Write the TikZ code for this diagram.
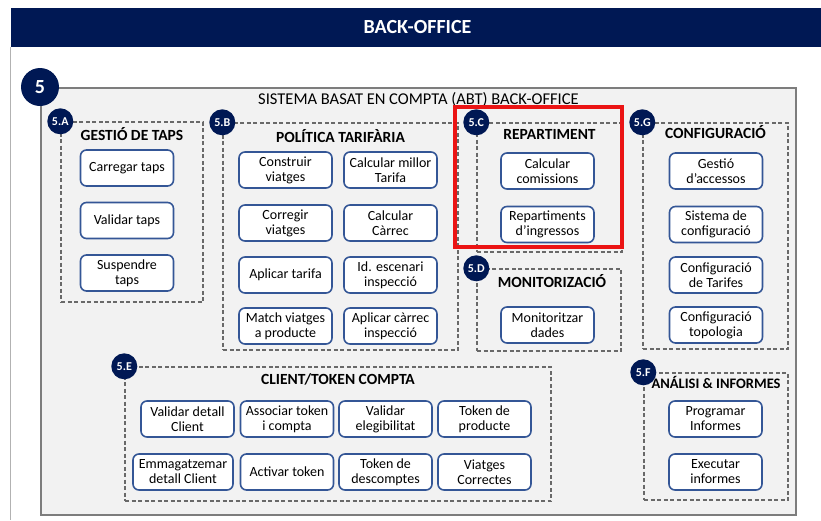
\documentclass[tikz,border=0pt]{standalone}
\usepackage{fontspec}
\setmainfont{Carlito}
\usetikzlibrary{positioning}
\definecolor{navy}{RGB}{0,24,84}
\definecolor{taskblue}{RGB}{52,86,150}
\definecolor{dashgray}{RGB}{105,105,105}
\definecolor{sysgray}{RGB}{125,125,125}
\definecolor{sysfill}{RGB}{242,242,242}
\definecolor{focusred}{RGB}{235,20,20}

\begin{document}
\begin{tikzpicture}[x=1pt,y=-1pt]
    \tikzstyle{task}=[draw=taskblue, line width=1.6pt, rounded corners=6pt, fill=white, minimum width=93pt, minimum height=36pt, inner sep=1pt, align=center, font=\fontsize{14}{15}\selectfont]
    \tikzstyle{module}=[draw=dashgray, line width=1.4pt, dash pattern=on 4pt off 2.5pt, inner sep=0pt]
    \tikzstyle{badge}=[circle, fill=navy, text=white, minimum size=26pt, inner sep=0pt, font=\bfseries\fontsize{12}{12}\selectfont]
    \tikzstyle{modtitle}=[inner sep=0pt, font=\bfseries\fontsize{15.5}{15.5}\selectfont]

    \useasboundingbox (0,0) rectangle (821,520);

    % Header bar and panel
    \node[fill=navy, minimum width=813pt, minimum height=39pt, inner sep=0pt, text=white, font=\bfseries\fontsize{20}{20}\selectfont] (hdr) at (417.5,27.5) {BACK-OFFICE};
    \draw[black!30, line width=1pt] (10,47) -- (10,520);

    % System box
    \node[draw=sysgray, line width=2pt, fill=sysfill, minimum width=755pt, minimum height=427pt, inner sep=0pt] (sys) at (418.5,301.5) {};
    \node[inner sep=0pt, font=\fontsize{16.5}{16.5}\selectfont] (sys-title) at ([yshift=-13pt]sys.north) {SISTEMA BASAT EN COMPTA (ABT) BACK-OFFICE};

    % Modules
    \node[module, minimum width=142pt, minimum height=180pt] (A) at (132,212) {};
    \node[module, minimum width=235pt, minimum height=227pt] (B) at (340.5,236.5) {};
    \node[module, minimum width=145pt, minimum height=129pt] (C) at (549.5,187.5) {};
    \node[module, minimum width=144pt, minimum height=82pt] (D) at (549,310) {};
    \node[module, minimum width=426pt, minimum height=134pt] (E) at (338,434) {};
    \node[module, minimum width=144pt, minimum height=127pt] (F) at (716,436.5) {};
    \node[module, minimum width=145pt, minimum height=226pt] (G) at (715.5,236) {};

    % Highlight round 5.C
    \node[draw=focusred, line width=3.8pt, minimum width=167pt, minimum height=140pt, inner sep=0pt] (focus) at (538.5,177) {};

    % Module titles
    \node[modtitle] (A-title) at ([yshift=-13pt]A.north) {GESTIÓ DE TAPS};
    \node[modtitle] (B-title) at ([yshift=-14pt]B.north) {POLÍTICA TARIFÀRIA};
    \node[modtitle] (C-title) at ([yshift=-12pt]C.north) {REPARTIMENT};
    \node[modtitle] (D-title) at ([yshift=-13pt,xshift=3pt]D.north) {MONITORIZACIÓ};
    \node[modtitle] (E-title) at ([yshift=-13pt]E.north) {CLIENT/TOKEN COMPTA};
    \node[modtitle, font=\bfseries\fontsize{14.5}{14.5}\selectfont] (F-title) at ([yshift=-10pt]F.north) {ANÁLISI \& INFORMES};
    \node[modtitle] (G-title) at ([yshift=-10pt]G.north) {CONFIGURACIÓ};

    % Badges
    \node[badge, minimum size=38pt, font=\bfseries\fontsize{20}{20}\selectfont] (sys-tag) at (sys.north west) {5};
    \foreach \name in {A,B,C,D,E,F,G}
        \node[badge] (\name-tag) at (\name.north west) {5.\name};

    % Tasks of 5.A
    \foreach \name / \y / \txt in {1/168/Carregar taps,2/220.5/Validar taps,3/273/Suspendre\\taps}
        \node[task] (A-\name) at (127,\y) {\txt};

    % Tasks of 5.B
    \foreach \name / \y / \txt in {1/170/Construir\\viatges,2/223/Corregir\\viatges,3/275/Aplicar tarifa,4/326/Match viatges\\a producte}
        \node[task] (B-\name) at (285.5,\y) {\txt};
    \foreach \name / \y / \txt in {5/170/Calcular millor\\Tarifa,6/223/Calcular\\Càrrec,7/275/Id. escenari\\inspecció,8/326/Aplicar càrrec\\inspecció}
        \node[task] (B-\name) at (390.5,\y) {\txt};

    % Tasks of 5.C and 5.D
    \node[task] (C-1) at (547.5,171) {Calcular\\comissions};
    \node[task] (C-2) at (547.5,224.5) {Repartiments\\d'ingressos};
    \node[task] (D-1) at (547.5,325) {Monitoritzar\\dades};

    % Tasks of 5.G
    \foreach \name / \y / \txt in {1/171/Gestió\\d'accessos,2/224.5/Sistema de\\configuració,3/275/Configuració\\de Tarifes,4/325/Configuració\\topologia}
        \node[task] (G-\name) at (716,\y) {\txt};

    % Tasks of 5.E
    \foreach \name / \x / \txt in {1/187.5/Validar detall\\Client,2/287/Associar token\\i compta,3/385.5/Validar\\elegibilitat,4/484.5/Token de\\producte}
        \node[task] (E-\name) at (\x,419) {\txt};
    \node[task, minimum width=100pt] (E-5) at (183,472) {Emmagatzemar\\detall Client};
    \foreach \name / \x / \txt in {6/287/Activar token,7/385.5/Token de\\descomptes,8/484.5/Viatges\\Correctes}
        \node[task] (E-\name) at (\x,472) {\txt};

    % Tasks of 5.F
    \node[task] (F-1) at (715.5,419) {Programar\\Informes};
    \node[task] (F-2) at (715.5,472) {Executar\\informes};
\end{tikzpicture}
\end{document}
